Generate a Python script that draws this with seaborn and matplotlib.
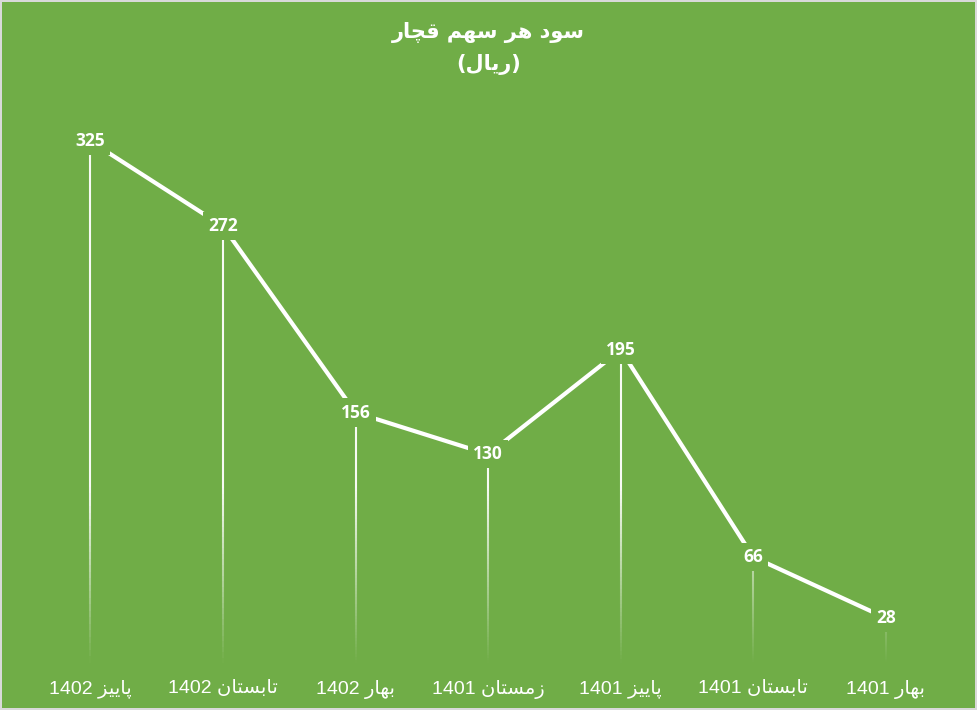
import matplotlib
matplotlib.use("Agg")
import matplotlib.pyplot as plt
import numpy as np
import pandas as pd
import seaborn as sns

# --- data -------------------------------------------------------------
seasons = ["پاییز", "تابستان", "بهار", "زمستان", "پاییز", "تابستان", "بهار"]
years = ["1402", "1402", "1402", "1401", "1401", "1401", "1401"]
eps = [325, 272, 156, 130, 195, 66, 28]
title_line1 = "سود هر سهم قچار"
title_line2 = "ریال"

GREEN = "#70AD47"

# minimal Arabic/Persian shaping (matplotlib has no bidi / joining support)
FORMS = {
    "ا": ("\uFE8D", "\uFE8E"),
    "ب": ("\uFE8F", "\uFE90", "\uFE91", "\uFE92"),
    "ت": ("\uFE95", "\uFE96", "\uFE97", "\uFE98"),
    "د": ("\uFEA9", "\uFEAA"),
    "ر": ("\uFEAD", "\uFEAE"),
    "ز": ("\uFEAF", "\uFEB0"),
    "س": ("\uFEB1", "\uFEB2", "\uFEB3", "\uFEB4"),
    "ق": ("\uFED5", "\uFED6", "\uFED7", "\uFED8"),
    "ل": ("\uFEDD", "\uFEDE", "\uFEDF", "\uFEE0"),
    "م": ("\uFEE1", "\uFEE2", "\uFEE3", "\uFEE4"),
    "ن": ("\uFEE5", "\uFEE6", "\uFEE7", "\uFEE8"),
    "ه": ("\uFEE9", "\uFEEA", "\uFEEB", "\uFEEC"),
    "و": ("\uFEED", "\uFEEE"),
    "پ": ("\uFB56", "\uFB57", "\uFB58", "\uFB59"),
    "چ": ("\uFB7A", "\uFB7B", "\uFB7C", "\uFB7D"),
    "ی": ("\uFBFC", "\uFBFD", "\uFBFE", "\uFBFF"),
}


def rtl(text):
    out = []
    for i, ch in enumerate(text):
        if ch not in FORMS:
            out.append(ch)
            continue
        prev = text[i - 1] if i > 0 else ""
        nxt = text[i + 1] if i + 1 < len(text) else ""
        jp = prev in FORMS and len(FORMS[prev]) == 4
        jn = nxt in FORMS and len(FORMS[ch]) == 4
        f = FORMS[ch]
        if jp and jn:
            out.append(f[3])
        elif jp:
            out.append(f[1])
        elif jn:
            out.append(f[2])
        else:
            out.append(f[0])
    return "".join(reversed(out))


labels = [f"{y} {rtl(s)}" for s, y in zip(seasons, years)]
df = pd.DataFrame({"quarter": labels, "eps": eps})

sns.set_theme(style="white")
plt.rcParams["font.family"] = ["Liberation Sans", "DejaVu Sans"]

fig = plt.figure(figsize=(9.77, 7.1), dpi=100)
fig.patch.set_facecolor(GREEN)
fig.patch.set_edgecolor("#d9d9d9")
fig.patch.set_linewidth(1.5)
ax = fig.add_axes([0.0246, 0.0662, 0.95, 0.7915])
ax.set_facecolor(GREEN)

pos = np.arange(len(eps))

# drop lines fading towards the baseline
n = 80
for x, v in zip(pos, eps):
    edges = np.linspace(0, v, n + 1)
    mids = (edges[:-1] + edges[1:]) / 2
    alpha = np.clip(mids / 110.0, 0, 1) * 0.95
    cols = [(1, 1, 1, a) for a in alpha]
    ax.vlines(np.full(n, x), edges[:-1], edges[1:], colors=cols, lw=1.5, zorder=1)

sns.lineplot(data=df, x="quarter", y="eps", sort=False, color="white",
             lw=3, ax=ax, zorder=2)

for x, v in zip(pos, eps):
    ax.text(x, v, str(v), ha="center", va="center", color="white",
            fontsize=12.5, fontweight="bold", family=["Open Sans", "DejaVu Sans"],
            zorder=3,
            bbox=dict(boxstyle="square,pad=0.3", fc=GREEN, ec="none"))

ax.set_xlim(-0.5, len(eps) - 0.5)
ax.set_ylim(0, 350)
ax.set_xticks(pos)
ax.set_xticklabels(labels, color="white", fontsize=14)
ax.tick_params(axis="x", length=0, pad=12)
ax.set_yticks([])
ax.set_xlabel("")
ax.set_ylabel("")
for s in ax.spines.values():
    s.set_visible(False)

fig.text(0.5, 0.954, rtl(title_line1), ha="center", va="center",
         color="white", fontsize=15, fontweight="bold",
         family=["DejaVu Sans"])
fig.text(0.5, 0.909, "(" + rtl(title_line2) + ")", ha="center", va="center",
         color="white", fontsize=15, fontweight="bold",
         family=["DejaVu Sans"])

fig.savefig("out.png", dpi=100, facecolor=GREEN, edgecolor="#d9d9d9")
